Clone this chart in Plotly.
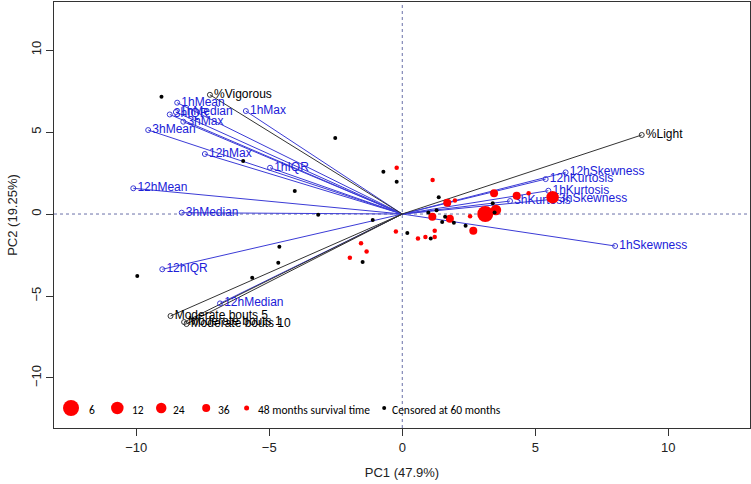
import plotly.graph_objects as go

# ---- loadings (arrow end points) ----
var_names = ["%Vigorous", "1hMean", "1hMedian", "3hIQR", "3hMax", "3hMean", "1hMax",
             "12hMax", "1hIQR", "12hMean", "3hMedian", "12hIQR", "12hMedian",
             "Moderate bouts 5", "Moderate bouts 1", "Moderate bouts 10",
             "%Light", "12hSkewness", "12hKurtosis", "1hKurtosis", "3hSkewness",
             "3hKurtosis", "1hSkewness"]
var_pc1 = [-7.23, -8.46, -8.51, -8.74, -8.23, -9.55, -5.88,
           -7.42, -4.97, -10.11, -8.29, -9.02, -6.85,
           -8.71, -8.20, -8.11,
           9.00, 6.14, 5.39, 5.49, 5.74,
           4.05, 8.00]
var_pc2 = [7.27, 6.79, 6.22, 6.07, 5.63, 5.12, 6.28,
           3.66, 2.82, 1.57, 0.08, -3.37, -5.45,
           -6.22, -6.59, -6.71,
           4.82, 2.54, 2.13, 1.42, 0.91,
           0.79, -1.95]
var_kind = ["activity", "stat", "stat", "stat", "stat", "stat", "stat",
            "stat", "stat", "stat", "stat", "stat", "stat",
            "activity", "activity", "activity",
            "activity", "stat", "stat", "stat", "stat",
            "stat", "stat"]

# ---- observation scores ----
obs_pc1 = [3.12, 5.65, 3.52, 2.67, 3.45, 1.69, 1.13, 1.79, 4.30, 4.75, 2.55, 0.59,
           1.98, 1.14, -0.21, 1.22, 1.22, 0.87, -0.24, -1.55, -1.34, -1.97,
           -0.71, -0.21, 1.37, 3.40, 3.47, 0.98, 1.29, 1.61, 1.94, 2.38, 1.50, 1.07,
           0.19, -1.11, -1.49, -3.16, -9.05, -4.04, -4.66, -4.62, -9.96, -5.64,
           -5.98, -2.52]
obs_pc2 = [0.00, 1.02, 0.24, -1.02, 1.26, 0.69, -0.16, -0.29, 1.12, 1.26, -0.14, -1.50,
           0.83, 2.07, 2.82, -1.02, -1.40, -1.40, -1.06, -1.79, -2.28, -2.66,
           2.58, 1.97, 1.02, 0.65, 0.10, 0.10, 0.23, -0.16, -0.53, -0.71, -0.49, -1.50,
           -1.16, -0.37, -2.93, -0.04, 7.15, 1.40, -2.97, -1.99, -3.78, -3.88,
           3.23, 4.63]
obs_months = [6, 12, 24, 36, 36, 36, 36, 36, 36, 48, 48, 48,
              48, 48, 48, 48, 48, 48, 48, 48, 48, 48,
              60, 60, 60, 60, 60, 60, 60, 60, 60, 60, 60, 60,
              60, 60, 60, 60, 60, 60, 60, 60, 60, 60,
              60, 60]

# ---- legend ----
legend_months = [6, 12, 24, 36, 48, 60]
legend_labels = ["6", "12", "24", "36", "48 months survival time", "Censored at 60 months"]

x_ticks = [-10, -5, 0, 5, 10]
y_ticks = [-10, -5, 0, 5, 10]

# ---- styles ----
size_map = {6: 16, 12: 12.5, 24: 10.5, 36: 8, 48: 4.5, 60: 4}
color_map = {60: "black"}
kind_line = {"stat": "#3b3bd6", "activity": "#333333"}
kind_text = {"stat": "#2020d8", "activity": "black"}
FONT = "Liberation Sans, Arial, sans-serif"

fig = go.Figure()

# reference lines at zero
fig.add_shape(type="line", x0=0, x1=0, y0=-13.05, y1=12.93,
              line=dict(color="#6a70a8", width=1, dash="dot"), layer="below")
fig.add_shape(type="line", x0=-13.09, x1=13.07, y0=0, y1=0,
              line=dict(color="#6a70a8", width=1, dash="dot"), layer="below")

# arrows
for kind in ["stat", "activity"]:
    xs, ys = [], []
    for n, a, b, k in zip(var_names, var_pc1, var_pc2, var_kind):
        if k == kind:
            xs += [0, a, None]
            ys += [0, b, None]
    fig.add_trace(go.Scatter(x=xs, y=ys, mode="lines",
                             line=dict(color=kind_line[kind], width=1),
                             hoverinfo="skip", showlegend=False))
for kind in ["stat", "activity"]:
    idx = [i for i, k in enumerate(var_kind) if k == kind]
    fig.add_trace(go.Scatter(
        x=[var_pc1[i] for i in idx], y=[var_pc2[i] for i in idx],
        text=[var_names[i] for i in idx], mode="markers+text",
        textposition="middle right",
        textfont=dict(family=FONT, size=12, color=kind_text[kind]),
        marker=dict(symbol="circle-open", size=5, color=kind_line[kind],
                    line=dict(width=1, color=kind_line[kind])),
        hoverinfo="skip", showlegend=False))

# observations
fig.add_trace(go.Scatter(
    x=obs_pc1, y=obs_pc2, mode="markers", opacity=1,
    marker=dict(size=[size_map[m] for m in obs_months],
                color=[color_map.get(m, "#ff0000") for m in obs_months],
                opacity=1, line=dict(width=0)),
    hoverinfo="skip", showlegend=False))

# legend drawn inside the plot
leg_x = [-12.45, -10.71, -9.06, -7.37, -5.85, -0.68]
lab_x = [-11.65, -9.92, -8.38, -6.69, -5.50, -0.45]
leg_y = -11.83
fig.add_trace(go.Scatter(
    x=leg_x, y=[leg_y] * len(leg_x), mode="markers", opacity=1,
    marker=dict(size=[size_map[m] if m != 48 else 5 for m in legend_months],
                color=[color_map.get(m, "#ff0000") for m in legend_months],
                opacity=1, line=dict(width=0)),
    hoverinfo="skip", showlegend=False))
for lx, lab in zip(lab_x, legend_labels):
    fig.add_annotation(x=lx, y=leg_y - 0.15, text=lab, showarrow=False,
                       xanchor="center" if len(lab) <= 2 else "left",
                       yanchor="middle",
                       font=dict(family="Carlito, Open Sans, sans-serif", size=11.5, color="black"))

axis_common = dict(showgrid=False, zeroline=False, showline=True, linecolor="#333",
                   linewidth=1, mirror=True, ticks="outside", ticklen=7, automargin=False,
                   tickcolor="#333", tickfont=dict(family=FONT, size=13, color="#222"))
fig.update_xaxes(range=[-13.09, 13.07], tickvals=x_ticks, **axis_common,
                 title=dict(text="PC1 (47.9%)", font=dict(family=FONT, size=13, color="#222"),
                            standoff=14))
fig.update_yaxes(range=[-13.05, 12.93], tickvals=y_ticks, tickangle=-90, **axis_common,
                 title=dict(text="PC2 (19.25%)", font=dict(family=FONT, size=13, color="#222"),
                            standoff=8))
fig.update_layout(width=751, height=484, margin=dict(l=54, r=1, t=2, b=56),
                  plot_bgcolor="white", paper_bgcolor="white", showlegend=False)

fig.write_html("out.html", config={"responsive": False, "displayModeBar": False},
               post_script="document.body.style.margin='0px';document.body.style.overflow='hidden';")
